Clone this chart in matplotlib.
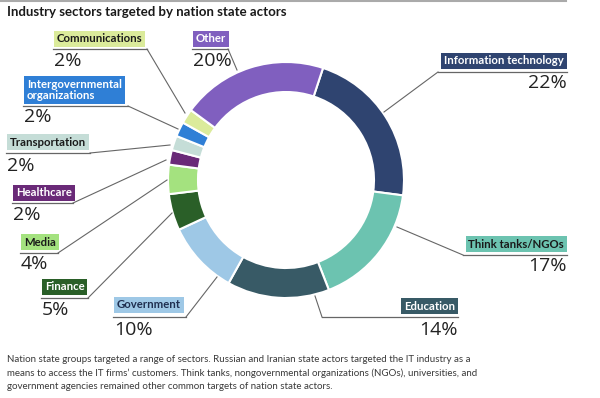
import matplotlib.pyplot as plt

plt.rcParams['font.family'] = ['Lato', 'DejaVu Sans']

# data, clockwise from the top
sectors = ["Information technology", "Think tanks/NGOs", "Education", "Government",
           "Finance", "Media", "Healthcare", "Transportation",
           "Intergovernmental\norganizations", "Communications", "Other"]
shares = [22, 17, 14, 10, 5, 4, 2, 2, 2, 2, 20]
colors = ["#2f4470", "#6cc3b0", "#385a66", "#9ec8e6", "#2a5f28", "#a4e27f",
          "#6a2a78", "#c5ddd7", "#2f7fd6", "#dbeb9b", "#805fbf"]
text_colors = ["white", "#1a1a1a", "white", "#1f2f50", "white", "#1a1a1a",
               "white", "#1a1a1a", "white", "#1a1a1a", "white"]

title = "Industry sectors targeted by nation state actors"
caption = ("Nation state groups targeted a range of sectors. Russian and Iranian state actors targeted the IT industry as a\n"
           "means to access the IT firms\u2019 customers. Think tanks, nongovernmental organizations (NGOs), universities, and\n"
           "government agencies remained other common targets of nation state actors.")

# label layout (pixel coords): box x, box y-centre, align, underline x0, x1, y, anchor on ring, pct y
layout = {
    "Information technology": (567, 61, 'right', 438, 567, 72, (384, 112), 83),
    "Think tanks/NGOs": (567, 244, 'right', 463, 567, 255, (397, 227), 266),
    "Education": (458, 306, 'right', 322, 458, 317, (315, 296), 330),
    "Government": (114, 305, 'left', 113, 186, 317, (217, 277), 330),
    "Finance": (42, 287, 'left', 41, 88, 298, (172, 213), 310),
    "Media": (21, 242, 'left', 20, 58, 253, (167, 180), 264),
    "Healthcare": (13, 193, 'left', 12, 73, 203, (166, 160), 215),
    "Transportation": (7, 142, 'left', 6, 90, 153, (170, 145), 166),
    "Intergovernmental\norganizations": (24, 90, 'left', 23, 128, 106, (178, 129), 117),
    "Communications": (54, 39, 'left', 53, 147, 49, (185, 113), 61),
    "Other": (193, 39, 'left', 192, 228, 49, (237, 70), 61),
}

fig = plt.figure(figsize=(6, 3.98), dpi=100)
ax = fig.add_axes([0, 0, 1, 1])

# y axis points down, so counterclock=True draws clockwise on screen
ax.pie(shares, colors=colors, center=(286, 180), radius=118,
       startangle=-71.7, counterclock=True,
       wedgeprops=dict(width=30, edgecolor='white', linewidth=1.5))

ax.set_xlim(0, 600)
ax.set_ylim(398, 0)
ax.set_aspect('equal')
ax.axis('off')

pad = 3
for name, pct, col, tcol in zip(sectors, shares, colors, text_colors):
    bx, by, al, ux0, ux1, uy, anchor, py = layout[name]
    tx = bx + pad if al == 'left' else bx - pad
    ax.text(tx, by, name, ha=al, va='center', fontsize=8.2, fontweight='bold',
            color=tcol, linespacing=1.0,
            bbox=dict(boxstyle='square,pad=0.25', fc=col, ec='none'))
    ax.plot([ux0, ux1], [uy, uy], color='#666666', lw=0.9)
    start = ux1 if al == 'left' else ux0
    ax.plot([start, anchor[0]], [uy, anchor[1]], color='#666666', lw=0.8)
    ax.text(bx, py, f"{pct}%", ha=al, va='center', fontsize=14, color='#222222',
            family=['Open Sans', 'DejaVu Sans'])

ax.plot([0, 566], [0.8, 0.8], color='#aaaaaa', lw=1.5)
ax.text(7, 12, title, fontsize=9.5, fontweight='bold', color='#1a1a1a', va='center')
ax.text(7, 373, caption, fontsize=7.0, color='#3a3a3a', va='center', linespacing=1.55)

fig.savefig('out.png', dpi=100)
